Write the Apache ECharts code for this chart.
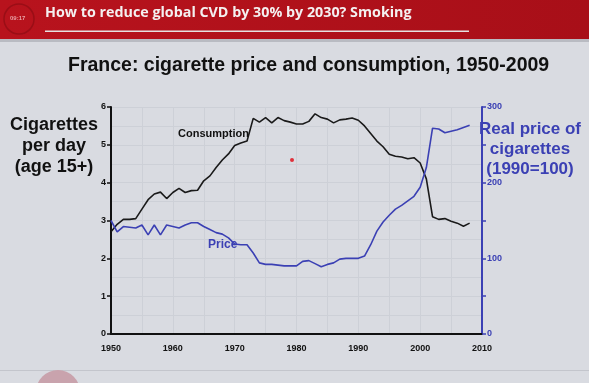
<!DOCTYPE html>
<html>
<head>
<meta charset="utf-8">
<script src="https://cdn.jsdelivr.net/npm/echarts@6/dist/echarts.min.js"></script>
<style>
html,body{margin:0;padding:0;background:#d9dbe1;}
#c{width:589px;height:383px;}
</style>
</head>
<body>
<div id="c"></div>
<script>
const years = [1950,1951,1952,1953,1954,1955,1956,1957,1958,1959,1960,1961,1962,1963,1964,1965,1966,1967,1968,1969,1970,1971,1972,1973,1974,1975,1976,1977,1978,1979,1980,1981,1982,1983,1984,1985,1986,1987,1988,1989,1990,1991,1992,1993,1994,1995,1996,1997,1998,1999,2000,2001,2002,2003,2004,2005,2006,2007,2008];
const consumption = [2.70,2.90,3.03,3.03,3.05,3.30,3.55,3.70,3.75,3.58,3.74,3.85,3.74,3.79,3.80,4.05,4.18,4.40,4.60,4.76,4.98,5.05,5.10,5.70,5.60,5.72,5.58,5.72,5.64,5.60,5.55,5.55,5.62,5.82,5.72,5.68,5.58,5.66,5.68,5.71,5.65,5.50,5.30,5.10,4.95,4.75,4.70,4.68,4.63,4.66,4.52,4.10,3.10,3.03,3.05,2.98,2.93,2.85,2.93];
const price = [150,135,142,141,140,144,131,144,131,144,142,140,144,147,147,142,138,134,132,127,119,118,118,107,94,92,92,91,90,90,90,96,97,93,89,92,94,99,100,100,100,103,118,136,148,157,165,170,176,182,194,220,272,271,266,268,270,273,276];
const xTicks = [1950,1960,1970,1980,1990,2000,2010];
const leftTicks = [0,1,2,3,4,5,6];
const rightTickLabels = [0,100,200,300];

const chart = echarts.init(document.getElementById('c'));
const consData = years.map((y,i)=>[y,consumption[i]]);
const priceData = years.map((y,i)=>[y,price[i]]);
const blue = '#3b40b4';
const gridCol = '#cdd0d7';
chart.setOption({
  backgroundColor: '#d9dbe1',
  animation: false,
  grid: {left:111, right:107, top:107, bottom:49},
  xAxis: {
    type:'value', min:1950, max:2010, interval:10,
    axisLine:{show:true, lineStyle:{color:'#111', width:2}},
    axisTick:{show:false},
    axisLabel:{color:'#111', fontFamily:'Liberation Sans', fontWeight:'bold', fontSize:9, margin:10,
      formatter:v=> xTicks.includes(v)? String(v):''},
    splitLine:{show:true, lineStyle:{color:gridCol, width:1}},
    minorTick:{show:false, splitNumber:2},
    minorSplitLine:{show:true, lineStyle:{color:gridCol, width:1}}
  },
  yAxis: [{
    type:'value', min:0, max:6, interval:1, position:'left',
    axisLine:{show:true, lineStyle:{color:'#111', width:2}},
    axisTick:{show:true, length:4, lineStyle:{color:'#111', width:1.5}},
    axisLabel:{color:'#111', fontFamily:'Liberation Sans', fontWeight:'bold', fontSize:9, margin:5,
      formatter:v=> leftTicks.includes(v)? String(v):''},
    splitLine:{show:true, lineStyle:{color:gridCol, width:1}},
    minorTick:{show:false, splitNumber:2},
    minorSplitLine:{show:true, lineStyle:{color:gridCol, width:1}}
  },{
    type:'value', min:0, max:300, interval:50, position:'right',
    axisLine:{show:true, lineStyle:{color:blue, width:2}},
    axisTick:{show:true, length:4, lineStyle:{color:blue, width:1.5}},
    axisLabel:{color:blue, fontFamily:'Liberation Sans', fontWeight:'bold', fontSize:9, margin:5,
      formatter:v=> rightTickLabels.includes(v)? String(v):''},
    splitLine:{show:false}
  }],
  series: [{
    name:'Consumption', type:'line', yAxisIndex:0, data:consData, showSymbol:false,
    lineStyle:{color:'#1a1a1a', width:1.6}, z:3
  },{
    name:'Price', type:'line', yAxisIndex:1, data:priceData, showSymbol:false,
    lineStyle:{color:blue, width:1.6}, z:3
  }],
  graphic: [
    {type:'rect', shape:{x:0,y:0,width:589,height:39}, style:{fill:new echarts.graphic.LinearGradient(0,0,1,0,[{offset:0,color:'#b8131d'},{offset:1,color:'#a80f18'}])}, z:0},
    {type:'rect', shape:{x:0,y:39,width:589,height:3}, style:{fill:'#b9bbc2'}, z:0},
    {type:'circle', shape:{cx:19,cy:19,r:15}, style:{fill:'rgba(0,0,0,0)', stroke:'#9a0e16', lineWidth:1.5}, z:1},
    {type:'text', left:10, top:15, style:{text:'09:17', fill:'#e8a0a4', font:'bold 6px Liberation Sans'}, z:2},
    {type:'text', left:45, top:6, style:{text:'How to reduce global CVD by 30% by 2030? Smoking', fill:'#f4f0f0', font:'bold 14.3px "Open Sans"'}, z:2},
    {type:'rect', shape:{x:45,y:30.5,width:424,height:1.5}, style:{fill:'#e6e0e0'}, z:2},
    {type:'text', left:68, top:56, style:{text:'France: cigarette price and consumption, 1950-2009', fill:'#111', font:'bold 19.5px "Liberation Sans"'}, z:2},
    {type:'text', left:10, top:115, style:{text:'Cigarettes\nper day\n(age 15+)', fill:'#111', font:'bold 18px "Liberation Sans"', textAlign:'center', lineHeight:21}, z:2},
    {type:'text', left:479, top:119, style:{text:'Real price of\ncigarettes\n(1990=100)', fill:blue, font:'bold 17px "Liberation Sans"', textAlign:'center', lineHeight:20}, z:2},
    {type:'text', left:178, top:128, style:{text:'Consumption', fill:'#111', font:'bold 11px "Liberation Sans"'}, z:2},
    {type:'text', left:208, top:239, style:{text:'Price', fill:blue, font:'bold 12px "Liberation Sans"'}, z:2},
    {type:'circle', shape:{cx:292,cy:160,r:2}, style:{fill:'#e0303a'}, z:2},
    {type:'rect', shape:{x:0,y:370,width:589,height:1}, style:{fill:'#c3c5cc'}, z:0},
    {type:'circle', shape:{cx:58,cy:392,r:22}, style:{fill:'#c9a3ad'}, z:0}
  ]
});
</script>
</body>
</html>
